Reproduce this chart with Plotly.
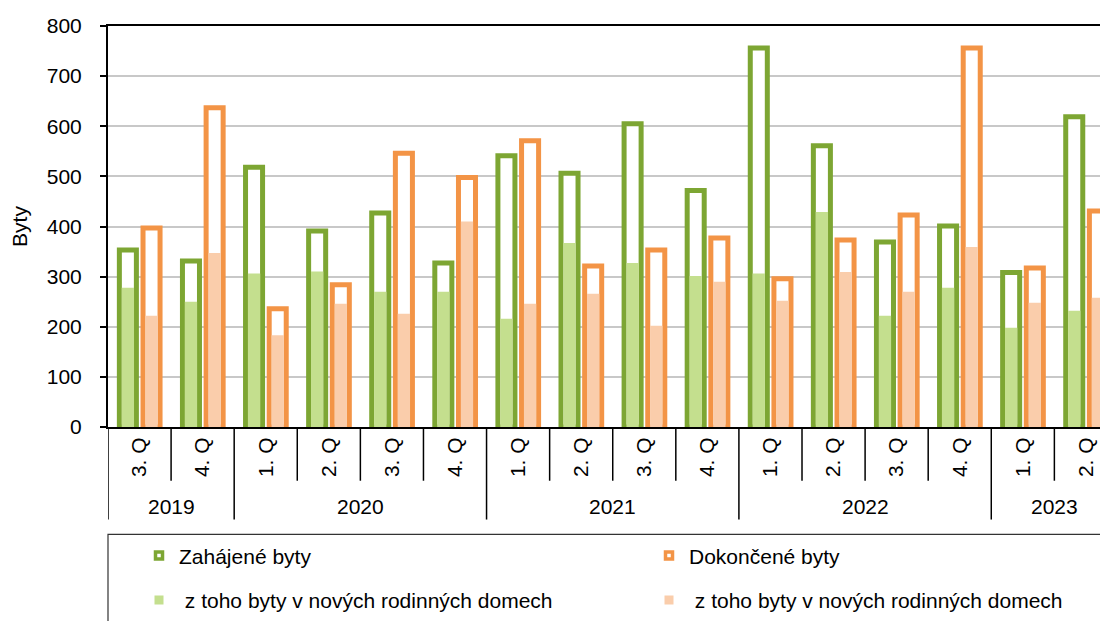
import plotly.graph_objects as go

quarters = ["3. Q", "4. Q", "1. Q", "2. Q", "3. Q", "4. Q", "1. Q", "2. Q",
            "3. Q", "4. Q", "1. Q", "2. Q", "3. Q", "4. Q", "1. Q", "2. Q"]
years = ["2019", "2019", "2020", "2020", "2020", "2020", "2021", "2021",
         "2021", "2021", "2022", "2022", "2022", "2022", "2023", "2023"]

zahajene = [353, 331, 518, 391, 427, 327, 541, 506, 605, 472, 756, 561, 369, 401, 308, 619]
zahajene_rd = [278, 250, 306, 310, 270, 270, 216, 367, 327, 301, 306, 429, 222, 278, 198, 232]
dokoncene = [397, 637, 236, 284, 546, 498, 571, 321, 353, 377, 296, 373, 423, 756, 317, 431]
dokoncene_rd = [222, 347, 183, 246, 226, 410, 246, 266, 202, 290, 252, 309, 270, 359, 248, 258]

GREEN = "#7DA633"
LGREEN = "#C4DF8E"
ORANGE = "#F39446"
LORANGE = "#FACDAB"
FONT = "Liberation Sans, Arial, sans-serif"
FS = 21

x = list(range(len(quarters)))

fig = go.Figure()

fig.add_trace(go.Bar(x=x, y=zahajene, width=0.27, offset=-0.32,
                     marker=dict(color="white", line=dict(color=GREEN, width=5)),
                     showlegend=False, hoverinfo="skip"))
fig.add_trace(go.Bar(x=x, y=zahajene_rd, width=0.195, offset=-0.2825,
                     marker=dict(color=LGREEN, line=dict(width=0)),
                     showlegend=False, hoverinfo="skip"))
fig.add_trace(go.Bar(x=x, y=dokoncene, width=0.27, offset=0.055,
                     marker=dict(color="white", line=dict(color=ORANGE, width=5)),
                     showlegend=False, hoverinfo="skip"))
fig.add_trace(go.Bar(x=x, y=dokoncene_rd, width=0.195, offset=0.0925,
                     marker=dict(color=LORANGE, line=dict(width=0)),
                     showlegend=False, hoverinfo="skip"))

# legend entries
fig.add_trace(go.Scatter(x=[None], y=[None], mode="markers", name="Zahájené byty",
                         marker=dict(symbol="square", size=7, color="white",
                                     line=dict(color=GREEN, width=3.5)),
                         legend="legend", legendgroup="a"))
fig.add_trace(go.Scatter(x=[None], y=[None], mode="markers",
                         name="\u00a0z toho byty v nových rodinných domech",
                         marker=dict(symbol="square", size=9, color=LGREEN),
                         legend="legend", legendgroup="b"))
fig.add_trace(go.Scatter(x=[None], y=[None], mode="markers", name="Dokončené byty",
                         marker=dict(symbol="square", size=7, color="white",
                                     line=dict(color=ORANGE, width=3.5)),
                         legend="legend2", legendgroup="c"))
fig.add_trace(go.Scatter(x=[None], y=[None], mode="markers",
                         name="\u00a0z toho byty v nových rodinných domech",
                         marker=dict(symbol="square", size=9, color=LORANGE),
                         legend="legend2", legendgroup="d"))

PLOT_H = 403.0
def py(px_below_axis):
    return -px_below_axis / PLOT_H

shapes = []
for i in range(len(quarters) + 1):
    if i == 0 or i == len(quarters) or years[i] != years[i - 1]:
        y1 = py(93)
    else:
        y1 = py(54)
    shapes.append(dict(type="line", xref="x", yref="paper", x0=i - 0.5, x1=i - 0.5,
                       y0=0, y1=y1, line=dict(color="black", width=1.5)))
# legend frame
shapes.append(dict(type="rect", xref="paper", yref="paper", x0=0, x1=1.05,
                   y0=py(108), y1=py(260), line=dict(color="#333333", width=1.2)))

annotations = []
uniq = []
for yv in years:
    if yv not in uniq:
        uniq.append(yv)
for yv in uniq:
    idx = [i for i, v in enumerate(years) if v == yv]
    annotations.append(dict(x=sum(idx) / len(idx), y=py(80), xref="x", yref="paper",
                            text=yv, showarrow=False, yanchor="middle",
                            font=dict(family=FONT, size=FS, color="black")))

fig.update_layout(
    width=1100, height=613,
    margin=dict(l=100, r=0, t=18, b=192),
    paper_bgcolor="white", plot_bgcolor="white",
    barmode="overlay",
    font=dict(family=FONT, size=FS, color="black"),
    shapes=shapes, annotations=annotations,
    xaxis=dict(range=[-0.5, 15.35], tickmode="array", tickvals=x, ticktext=quarters,
               tickangle=-90, ticks="", showline=True, linecolor="black", linewidth=2,
               mirror=True, showgrid=False, zeroline=False, automargin=False,
               tickfont=dict(family=FONT, size=FS, color="black")),
    yaxis=dict(range=[0, 800], dtick=100, showgrid=True, gridcolor="#C8C8C8", gridwidth=1.5,
               showline=True, linecolor="black", linewidth=2, ticks="outside", ticklen=6,
               tickcolor="black", tickwidth=1.5, zeroline=False, ticklabelstandoff=14,
               automargin=False,
               tickfont=dict(family=FONT, size=FS, color="black"),
               title=dict(text="Byty", standoff=18, font=dict(family=FONT, size=FS))),
    legend=dict(x=0.031, xanchor="left", y=py(109), yanchor="top", orientation="v",
                bgcolor="rgba(0,0,0,0)", tracegroupgap=14,
                font=dict(family=FONT, size=FS, color="black")),
    legend2=dict(x=0.541, xanchor="left", y=py(109), yanchor="top", orientation="v",
                 bgcolor="rgba(0,0,0,0)", tracegroupgap=14,
                 font=dict(family=FONT, size=FS, color="black")),
)

fig.write_html("out.html")
